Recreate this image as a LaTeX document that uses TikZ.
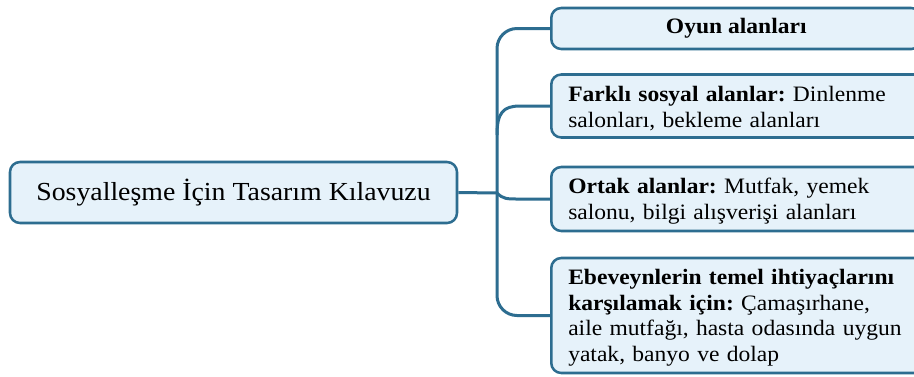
\documentclass[tikz,border=0pt]{standalone}
\usepackage{fontspec}
\setmainfont{Liberation Serif}[FakeStretch=1.07]
\definecolor{edge}{HTML}{2D6D90}
\definecolor{boxfill}{HTML}{E6F2FA}
\definecolor{ink}{HTML}{000000}
\newcommand\toppad{\rule{0pt}{15pt}}
\begin{document}
\frenchspacing
\begin{tikzpicture}[x=0.75pt,y=-0.75pt,
  box/.style={draw=edge, line width=1.9pt, fill=boxfill, rounded corners=7.5pt, text=ink},
  leafbase/.style={box, anchor=west, minimum width=277.5pt, inner xsep=12.75pt, inner ysep=0pt,
    font=\fontsize{16.5pt}{19.1pt}\selectfont},
  leaf/.style={leafbase, text width=262pt, align=left},
  conn/.style={draw=edge, line width=2.25pt}]
\clip (0,0) rectangle (914,376);
\fill[white] (0,0) rectangle (914,376);
\node[box, minimum width=335.25pt, minimum height=45.75pt, inner sep=0pt,
  font=\fontsize{19.5pt}{23pt}\selectfont] (root) at (233.5,192.5) {Sosyalleşme İçin Tasarım Kılavuzu};
\node[leafbase, minimum height=30.75pt, align=center] (b1) at (550,28.5) {\textbf{Oyun alanları}};
\node[leaf, minimum height=47.25pt] (b2) at (550,106) {\toppad\textbf{Farklı sosyal alanlar:} Dinlenme\\salonları, bekleme alanları};
\node[leaf, minimum height=48pt] (b3) at (550,199) {\toppad\textbf{Ortak alanlar:} Mutfak, yemek\\salonu, bilgi alışverişi alanları};
\node[leaf, minimum height=86.25pt] (b4) at (550,315.5) {\toppad\textbf{Ebeveynlerin temel ihtiyaçlarını}\\\textbf{karşılamak için:} Çamaşırhane,\\aile mutfağı, hasta odasında uygun\\yatak, banyo ve dolap};
\coordinate (J) at (497,193);
\coordinate (T2) at (497,135);
\draw[conn] (root.east) -- (J);
\draw[conn, rounded corners=15pt] (b1.west) -| (J) |- (b4.west);
\draw[conn] (T2) .. controls (497,113) and (503,106) .. (520,106) -- (b2.west);
\draw[conn] (J) .. controls (503,199) and (507,199) .. (518,199) -- (b3.west);
\end{tikzpicture}
\end{document}
